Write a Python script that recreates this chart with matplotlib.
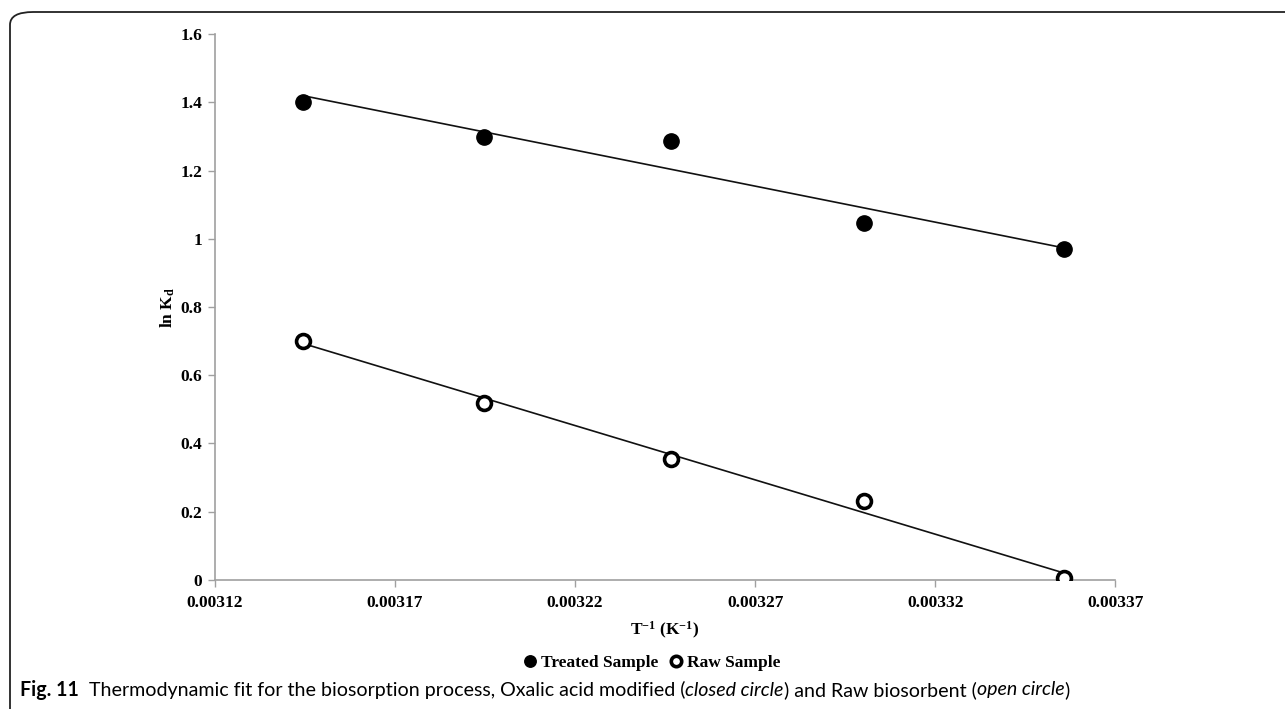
import numpy as np
import matplotlib
matplotlib.use('Agg')
import matplotlib.pyplot as plt
from matplotlib.patches import FancyBboxPatch

# temperatures 318..298 K -> inverse temperature
inv_T = [1/318.0, 1/313.0, 1/308.0, 1/303.0, 1/298.0]
treated = [1.40, 1.297, 1.287, 1.045, 0.97]
raw = [0.70, 0.52, 0.355, 0.23, 0.005]

x_ticks = [0.00312, 0.00317, 0.00322, 0.00327, 0.00332, 0.00337]
y_ticks = [0, 0.2, 0.4, 0.6, 0.8, 1, 1.2, 1.4, 1.6]
y_tick_labels = ['0', '0.2', '0.4', '0.6', '0.8', '1', '1.2', '1.4', '1.6']

plt.rcParams['mathtext.fontset'] = 'custom'
plt.rcParams['mathtext.rm'] = 'Liberation Serif:bold'
plt.rcParams['mathtext.it'] = 'Liberation Serif:bold'
plt.rcParams['mathtext.bf'] = 'Liberation Serif:bold'

serif = dict(family='Liberation Serif', weight='bold')

fig = plt.figure(figsize=(12.85, 7.09), dpi=100)
ax = fig.add_axes([0.167, 0.182, 0.701, 0.770])

x = np.array(inv_T)
# linear fits (trendlines)
for ys in (treated, raw):
    k, b = np.polyfit(x, ys, 1)
    ax.plot([x[0], x[-1]], [k * x[0] + b, k * x[-1] + b], color='#111111', lw=1.2, zorder=2)

ax.plot(inv_T, treated, 'o', color='black', ms=11, ls='none', zorder=3, label='Treated Sample')
ax.plot(inv_T, raw, 'o', mfc='white', mec='black', mew=2.6, ms=10, ls='none', zorder=3, label='Raw Sample')

ax.set_xlim(0.00312, 0.00337)
ax.set_ylim(0, 1.6)
ax.set_xticks(x_ticks)
ax.set_xticklabels(['%.5f' % t for t in x_ticks], fontsize=12.5, **serif)
ax.set_yticks(y_ticks)
ax.set_yticklabels(y_tick_labels, fontsize=12.5, **serif)
for s in ['top', 'right']:
    ax.spines[s].set_visible(False)
for s in ['left', 'bottom']:
    ax.spines[s].set_color('#a0a0a0')
    ax.spines[s].set_linewidth(1.2)
ax.tick_params(axis='both', direction='out', length=5, color='#a0a0a0', width=1.0)
ax.tick_params(axis='y', pad=4)
ax.tick_params(axis='x', pad=6)

ax.set_ylabel(r'ln K$_\mathregular{d}$', fontsize=12.5, labelpad=2, **serif)
ax.set_xlabel(r'T$^\mathregular{-1}$ (K$^\mathregular{-1}$)', fontsize=12.5, labelpad=6, **serif)

leg = fig.legend(loc='center', bbox_to_anchor=(0.507, 1 - 663 / 709), ncol=2, frameon=False,
                 handletextpad=0.25, columnspacing=0.6, handlelength=0.8, markerscale=0.75,
                 prop={'family': 'Liberation Serif', 'weight': 'bold', 'size': 12.5})

# rounded frame (top and left edges)
frame = FancyBboxPatch((10 / 1285, -0.2), 1.2, 1 - 12 / 709 + 0.2,
                       boxstyle='round,pad=0,rounding_size=0.018', transform=fig.transFigure,
                       fill=False, ec='#222222', lw=1.3, clip_on=False)
fig.patches.append(frame)

# caption with mixed styles
pieces = [('Fig. 11', 'bold', 'normal'),
          ('  Thermodynamic fit for the biosorption process, Oxalic acid modified (', 'normal', 'normal'),
          ('closed circle', 'normal', 'italic'),
          (') and Raw biosorbent (', 'normal', 'normal'),
          ('open circle', 'normal', 'italic'),
          (')', 'normal', 'normal')]
fig.canvas.draw()
r = fig.canvas.get_renderer()


def place_caption(size):
    xpos = 20
    made = []
    for txt, w, st in pieces:
        t = fig.text(xpos / 1285, 1 - 690 / 709, txt, fontsize=size, family='Lato',
                     weight=w, style=st, va='center', ha='left')
        made.append(t)
        xpos += t.get_window_extent(renderer=r).width
    return made, xpos


made, end = place_caption(12)
for t in made:
    t.remove()
size = 12 * (1067 - 20) / (end - 20)
place_caption(size)

fig.savefig('out.png', dpi=100)
